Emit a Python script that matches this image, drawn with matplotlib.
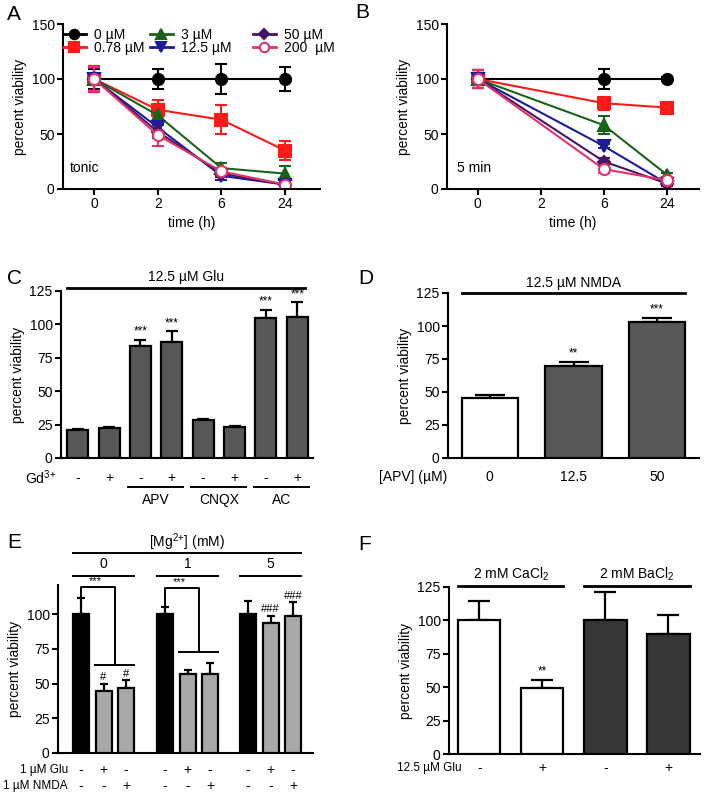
import matplotlib
matplotlib.use("Agg")
import matplotlib.pyplot as plt
import matplotlib.transforms as mtrans
import numpy as np

plt.rcParams['font.family'] = ['Liberation Sans', 'DejaVu Sans']
plt.rcParams['mathtext.fontset'] = 'custom'
plt.rcParams['mathtext.rm'] = 'Liberation Sans'
plt.rcParams['mathtext.it'] = 'Liberation Sans'
plt.rcParams['font.size'] = 9

W, H = 704, 797

# ---------------- data ----------------
time_labels = ["0", "2", "6", "24"]
conc_labels = ["0 \u00b5M", "0.78 \u00b5M", "3 \u00b5M", "12.5 \u00b5M", "50 \u00b5M", "200  \u00b5M"]
conc_colors = ["#000000", "#ff1a1a", "#1b631b", "#1c1c96", "#4a1466", "#e0336c"]
conc_markers = ["o", "s", "^", "v", "D", "o"]
conc_faces = ["#000000", "#ff1a1a", "#1b631b", "#1c1c96", "#4a1466", "white"]

tonic_mean = [
    [100, 100, 100, 100],
    [100, 72, 63, 35],
    [100, 67, 19, 14],
    [100, 56, 12, 4],
    [100, 52, 14, 4],
    [100, 49, 16, 4],
]
tonic_err = [
    [9, 9, 14, 11],
    [12, 9, 13, 9],
    [10, 5, 5, 7],
    [10, 6, 4, 3],
    [10, 6, 3, 3],
    [11, 10, 3, 3],
]

pulse_idx = [0, 2, 3]  # time points measured in B (0, 6, 24 h)
pulse_mean = [
    [100, 100, 100],
    [100, 78, 74],
    [100, 58, 13],
    [100, 39, 5],
    [100, 25, 5],
    [100, 18, 8],
]
pulse_err = [
    [8, 9, 2],
    [8, 6, 2],
    [8, 8, 2],
    [8, 2, 2],
    [8, 3, 2],
    [8, 3, 2],
]

c_vals = [21, 22.5, 84, 87, 28.5, 23, 104.5, 105.5]
c_errs = [1, 0.8, 4.5, 8, 1, 0.8, 6.3, 11.2]
c_gd = ["-", "+", "-", "+", "-", "+", "-", "+"]
c_groups = ["APV", "CNQX", "AC"]
c_stars = ["", "", "***", "***", "", "", "***", "***"]

d_vals = [45.5, 69.5, 103]
d_errs = [2.5, 3.5, 3.3]
d_apv = ["0", "12.5", "50"]
d_stars = ["", "**", "***"]

e_vals = [100, 45, 46.5, 100, 57, 57, 100, 93.3, 98.8]
e_errs = [11.5, 5, 6, 5.3, 3, 8, 9.4, 5.5, 10]
e_glu = ["-", "+", "-", "-", "+", "-", "-", "+", "-"]
e_nmda = ["-", "-", "+", "-", "-", "+", "-", "-", "+"]
e_mg = ["0", "1", "5"]
e_marks = ["", "#", "#", "", "", "", "", "###", "###"]

f_vals = [100, 49.2, 100, 89.6]
f_errs = [14.7, 6.2, 21, 14.7]
f_glu = ["-", "+", "-", "+"]
f_salts = ["2 mM CaCl$\\mathregular{_2}$", "2 mM BaCl$\\mathregular{_2}$"]

FS = 10  # tick / label font size
RS = 8.5  # row-label font size

# ---------------- figure ----------------
fig = plt.figure(figsize=(W / 100, H / 100), dpi=100)


def add_ax(l, r, t, b):
    return fig.add_axes([l / W, 1 - b / H, (r - l) / W, (b - t) / H])


def fy(py):
    return 1 - py / H


def fx(px):
    return px / W


def style(ax):
    for s in ["top", "right"]:
        ax.spines[s].set_visible(False)
    for s in ["left", "bottom"]:
        ax.spines[s].set_linewidth(1.5)
    ax.tick_params(direction="out", width=1.5, length=4, labelsize=FS, pad=2)
    ax.set_ylabel("percent viability", fontsize=FS, labelpad=3)


def bt(ax):
    return mtrans.blended_transform_factory(ax.transData, fig.transFigure)


# ---------- A ----------
axA = add_ax(63, 320, 24, 189)
style(axA)
handles = []
for i in range(6):
    eb = axA.errorbar(range(4), tonic_mean[i], yerr=tonic_err[i], color=conc_colors[i],
                      marker=conc_markers[i], mfc=conc_faces[i], mec=conc_colors[i],
                      ms=8 if conc_markers[i] != "D" else 6.5, mew=1.5, lw=1.5,
                      capsize=4.5, capthick=1.5, elinewidth=1.5, label=conc_labels[i])
    handles.append(eb)
axA.set_xlim(-0.49, 3.55)
axA.set_ylim(0, 150)
axA.set_yticks([0, 50, 100, 150])
axA.set_xticks(range(4))
axA.set_xticklabels(time_labels)
axA.set_xlabel("time (h)", fontsize=FS, labelpad=3)
axA.text(0.025, 0.1, "tonic", transform=axA.transAxes, fontsize=FS)
# legend: three columns of two entries
for col, xpx in enumerate([63, 150, 253]):
    lg = fig.legend(handles=[h[0] for h in handles[2 * col:2 * col + 2]],
                    labels=conc_labels[2 * col:2 * col + 2],
                    loc="upper left", bbox_to_anchor=(fx(xpx), fy(28)), frameon=False,
                    fontsize=FS, handlelength=1.65, handletextpad=0.6, labelspacing=-0.1,
                    borderpad=0, borderaxespad=0, markerscale=0.85)
    for ln in lg.get_lines():
        ln.set_linewidth(2)

# ---------- B ----------
axB = add_ax(447, 699, 24, 189)
style(axB)
for i in range(6):
    axB.errorbar(pulse_idx, pulse_mean[i], yerr=pulse_err[i], color=conc_colors[i],
                 marker=conc_markers[i], mfc=conc_faces[i], mec=conc_colors[i],
                 ms=8 if conc_markers[i] != "D" else 6.5, mew=1.5, lw=1.5,
                 capsize=4.5, capthick=1.5, elinewidth=1.5)
axB.set_xlim(-0.49, 3.51)
axB.set_ylim(0, 150)
axB.set_yticks([0, 50, 100, 150])
axB.set_xticks(range(4))
axB.set_xticklabels(time_labels)
axB.set_xlabel("time (h)", fontsize=FS, labelpad=3)
axB.text(0.04, 0.1, "5 min", transform=axB.transAxes, fontsize=FS)


def bars(ax, x, vals, errs, colors, width, capsize):
    ax.bar(x, vals, width=width, color=colors, edgecolor="black", linewidth=1.6, zorder=3)
    ax.errorbar(x, vals, yerr=[np.zeros(len(vals)), errs], fmt="none", ecolor="black",
                elinewidth=1.6, capsize=capsize, capthick=1.6, zorder=2)


# ---------- C ----------
axC = add_ax(61, 313, 291, 458)
style(axC)
xc = np.arange(len(c_vals))
bars(axC, xc, c_vals, c_errs, "#58585b", 0.67, 4.3)
axC.set_xlim(-0.53, 7.5)
axC.set_ylim(0, 125)
axC.set_yticks([0, 25, 50, 75, 100, 125])
axC.set_xticks([])
for i in range(len(c_vals)):
    if c_stars[i]:
        axC.annotate(c_stars[i], (xc[i], c_vals[i] + c_errs[i]), xytext=(0, 1.5),
                     textcoords="offset points", ha="center", va="bottom", fontsize=8.5)
tC = bt(axC)
axC.plot([-0.35, 7.25], [fy(288)] * 2, color="black", lw=2, transform=tC, clip_on=False)
axC.text(3.45, fy(277), "12.5 \u00b5M Glu", transform=tC, ha="center", va="center", fontsize=FS)
fig.text(fx(25), fy(478), "Gd$\\mathregular{^{3{+}}}$", ha="left", va="center", fontsize=FS)
for i in range(len(c_vals)):
    axC.text(xc[i], fy(478), c_gd[i], transform=tC, ha="center", va="center", fontsize=FS)
for g in range(3):
    a, b = 2 + 2 * g, 3 + 2 * g
    axC.plot([a - 0.38, b + 0.36], [fy(487)] * 2, color="black", lw=1.4, transform=tC, clip_on=False)
    axC.text((a + b) / 2, fy(500), c_groups[g], transform=tC, ha="center", va="center", fontsize=FS)

# ---------- D ----------
axD = add_ax(448, 699, 293, 458)
style(axD)
xd = np.arange(3)
bars(axD, xd, d_vals, d_errs, ["white", "#58585b", "#58585b"], 0.67, 11)
axD.set_xlim(-0.5, 2.5)
axD.set_ylim(0, 125)
axD.set_yticks([0, 25, 50, 75, 100, 125])
axD.set_xticks([])
for i in range(3):
    if d_stars[i]:
        axD.annotate(d_stars[i], (xd[i], d_vals[i] + d_errs[i]), xytext=(0, 1.5),
                     textcoords="offset points", ha="center", va="bottom", fontsize=8.5)
tD = bt(axD)
axD.plot([-0.335, 2.335], [fy(293)] * 2, color="black", lw=2, transform=tD, clip_on=False)
axD.text(1.0, fy(283), "12.5 \u00b5M NMDA", transform=tD, ha="center", va="center", fontsize=FS)
fig.text(fx(379), fy(477), "[APV] (\u00b5M)", ha="left", va="center", fontsize=FS)
for i in range(3):
    axD.text(xd[i], fy(477), d_apv[i], transform=tD, ha="center", va="center", fontsize=FS)

# ---------- E ----------
axE = add_ax(58, 313, 585, 753)
style(axE)
xe = np.array([0, 1, 2, 3.73, 4.73, 5.73, 7.42, 8.42, 9.42])
e_colors = ["black", "#a8a8a8", "#a8a8a8"] * 3
bars(axE, xe, e_vals, e_errs, e_colors, 0.71, 3)
axE.set_xlim(-1.02, 10.3)
axE.set_ylim(0, 121)
axE.set_yticks([0, 25, 50, 75, 100])
axE.set_xticks([])
for i in range(9):
    if e_marks[i]:
        axE.annotate(e_marks[i], (xe[i], e_vals[i] + e_errs[i]), xytext=(0, 1),
                     textcoords="offset points", ha="center", va="bottom", fontsize=8)
# brackets
for g, (top, low) in enumerate([(119.4, 63.3), (118.7, 72.7)]):
    b0 = xe[3 * g]
    mid = (xe[3 * g + 1] + xe[3 * g + 2]) / 2
    axE.plot([b0, b0, mid, mid], [e_vals[3 * g] + e_errs[3 * g] + 0.5, top, top, low],
             color="black", lw=1.4, clip_on=False)
    axE.plot([xe[3 * g + 1] - 0.36, xe[3 * g + 2] + 0.36], [low, low], color="black", lw=1.4)
    axE.text((b0 + mid) / 2 - 0.1, top + 1, "***", ha="center", va="bottom", fontsize=8)
tE = bt(axE)
for g in range(3):
    a, b = xe[3 * g], xe[3 * g + 2]
    axE.plot([a - 0.36, b + 0.36], [fy(576)] * 2, color="black", lw=1.4, transform=tE, clip_on=False)
    axE.text((a + b) / 2, fy(564), e_mg[g], transform=tE, ha="center", va="center", fontsize=FS)
axE.plot([xe[0] - 0.36, xe[-1] + 0.36], [fy(553)] * 2, color="black", lw=1.4, transform=tE, clip_on=False)
axE.text((xe[0] + xe[-1]) / 2, fy(542), "[Mg$\\mathregular{^{2{+}}}$] (mM)", transform=tE,
         ha="center", va="center", fontsize=FS)
fig.text(fx(68), fy(770), "1 \u00b5M Glu", ha="right", va="center", fontsize=RS)
fig.text(fx(68), fy(786), "1 \u00b5M NMDA", ha="right", va="center", fontsize=RS)
for i in range(9):
    axE.text(xe[i], fy(770), e_glu[i], transform=tE, ha="center", va="center", fontsize=FS)
    axE.text(xe[i], fy(786), e_nmda[i], transform=tE, ha="center", va="center", fontsize=FS)

# ---------- F ----------
axF = add_ax(449, 700, 587, 754)
style(axF)
xf = np.arange(4)
bars(axF, xf, f_vals, f_errs, ["white", "white", "#363636", "#363636"], 0.67, 8)
axF.set_xlim(-0.48, 3.5)
axF.set_ylim(0, 125)
axF.set_yticks([0, 25, 50, 75, 100, 125])
axF.set_xticks([])
axF.annotate("**", (xf[1], f_vals[1] + f_errs[1]), xytext=(0, 1.5),
             textcoords="offset points", ha="center", va="bottom", fontsize=8.5)
tF = bt(axF)
for g in range(2):
    a, b = xf[2 * g], xf[2 * g + 1]
    axF.plot([a - 0.335, b + 0.335], [fy(586)] * 2, color="black", lw=2, transform=tF, clip_on=False)
    axF.text((a + b) / 2, fy(574), f_salts[g], transform=tF, ha="center", va="center", fontsize=FS)
fig.text(fx(462), fy(768), "12.5 \u00b5M Glu", ha="right", va="center", fontsize=RS)
for i in range(4):
    axF.text(xf[i], fy(768), f_glu[i], transform=tF, ha="center", va="center", fontsize=FS)

# panel letters
for lab, (px, py) in zip("ABCDEF", [(7, 15), (355, 13), (7, 278), (358, 279), (7, 543), (358, 545)]):
    fig.text(fx(px), fy(py), lab, ha="left", va="center", fontsize=15)

fig.savefig("out.png", dpi=100)
